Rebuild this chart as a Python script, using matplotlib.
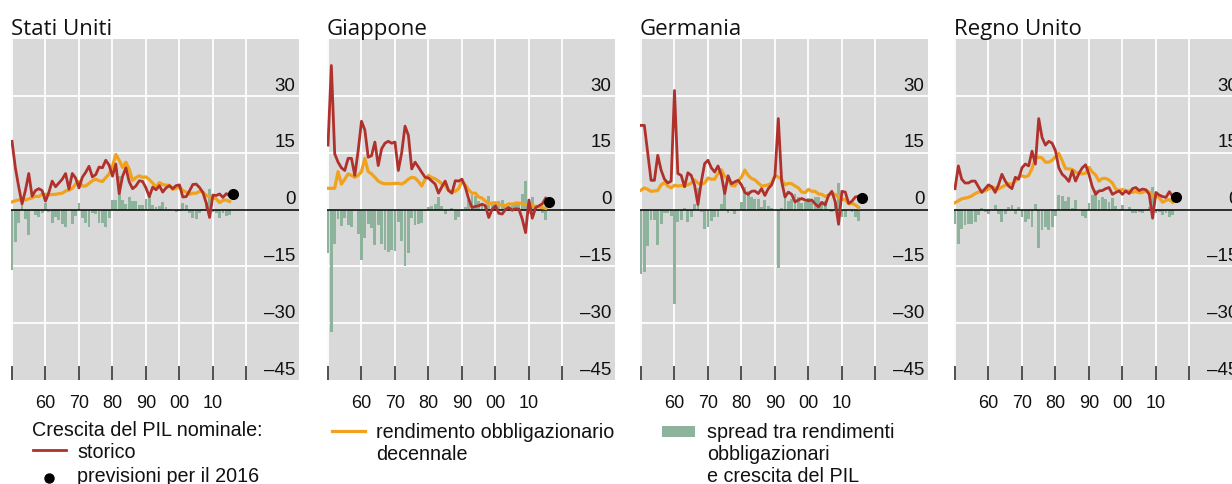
import matplotlib
matplotlib.use("Agg")
import matplotlib.pyplot as plt
import matplotlib.transforms as mtransforms
from matplotlib.lines import Line2D
from matplotlib.patches import Rectangle
import numpy as np

plt.rcParams['font.family'] = ['Liberation Sans', 'DejaVu Sans']

# ---------------- data ----------------
years = list(range(1950, 2016))
forecast_year = 2016

titles = ["Stati Uniti", "Giappone", "Germania", "Regno Unito"]

us_growth = [18.0, 11.0, 6.0, 1.5, 5.0, 9.5, 3.5, 5.0, 5.5, 5.0,
             2.2, 4.5, 7.5, 6.0, 7.0, 8.0, 9.5, 5.4, 9.5, 8.3,
             5.7, 8.5, 9.8, 11.4, 8.6, 9.2, 11.2, 11.0, 13.0, 11.7,
             8.8, 12.0, 4.2, 8.7, 11.0, 7.3, 5.5, 6.2, 7.6, 7.4,
             5.7, 3.4, 5.9, 5.2, 6.3, 4.6, 5.7, 6.3, 5.5, 6.3,
             6.5, 3.3, 3.4, 4.9, 6.6, 6.7, 5.8, 4.5, 1.7, -2.1,
             3.8, 3.7, 4.1, 3.2, 4.2, 3.6]
us_yield = [2.0, 2.3, 2.5, 2.8, 2.5, 2.8, 3.1, 3.5, 3.4, 4.1,
            4.0, 3.9, 3.95, 4.0, 4.2, 4.3, 4.9, 5.1, 5.6, 6.7,
            7.4, 6.2, 6.2, 6.9, 7.6, 8.0, 7.6, 7.4, 8.4, 9.4,
            11.4, 14.5, 13.0, 11.1, 12.5, 10.6, 7.7, 8.4, 8.9, 8.5,
            8.6, 7.9, 7.0, 5.9, 7.1, 6.6, 6.4, 6.4, 5.3, 5.6,
            6.0, 5.0, 4.6, 4.0, 4.3, 4.3, 4.8, 4.6, 3.7, 3.3,
            3.2, 2.8, 1.8, 2.4, 2.5, 2.1]
us_forecast = 4.0

jp_growth = [17.0, 38.0, 14.7, 12.5, 11.0, 10.3, 13.5, 13.5, 9.0, 15.5,
             23.3, 21.0, 13.8, 14.2, 17.8, 11.6, 16.0, 17.5, 18.0, 17.5,
             17.8, 10.3, 15.0, 22.0, 19.6, 10.7, 12.5, 11.2, 9.8, 8.5,
             8.3, 7.5, 6.7, 4.3, 6.0, 7.5, 5.0, 4.3, 7.6, 7.5,
             8.0, 5.9, 2.8, 0.5, 0.8, 1.0, 1.4, 1.0, -2.1, 0.0,
             1.0, -1.0, -1.2, 0.0, 0.5, -0.2, 0.2, 0.1, -2.5, -6.1,
             2.5, -2.3, 0.5, 1.0, 1.5, 3.0]
jp_yield = [5.6, 5.6, 5.6, 10.0, 6.7, 8.0, 9.4, 9.0, 8.5, 9.0,
            10.0, 13.5, 10.0, 9.4, 8.5, 7.5, 7.0, 6.8, 6.8, 6.8,
            6.9, 6.9, 6.7, 7.2, 8.0, 8.5, 8.3, 7.4, 6.2, 8.0,
            9.0, 8.4, 8.1, 7.5, 6.8, 6.3, 5.0, 4.7, 4.8, 5.5,
            7.5, 6.5, 5.2, 4.3, 4.3, 3.3, 3.0, 2.2, 1.5, 1.7,
            1.8, 1.3, 1.3, 1.0, 1.5, 1.4, 1.7, 1.7, 1.5, 1.3,
            1.2, 1.1, 0.8, 0.7, 0.5, 0.3]
jp_forecast = 2.1

de_growth = [22.2, 22.2, 15.0, 7.7, 7.7, 14.3, 10.4, 8.0, 7.0, 7.5,
             31.4, 9.5, 9.0, 6.0, 9.7, 9.0, 6.4, 1.3, 7.3, 12.1,
             13.0, 11.0, 9.9, 11.5, 9.0, 4.2, 8.9, 6.8, 7.3, 7.7,
             6.5, 4.5, 4.0, 4.8, 4.9, 4.2, 5.5, 3.7, 5.5, 6.5,
             8.9, 24.0, 7.4, 3.3, 4.6, 4.0, 2.0, 2.5, 2.9, 2.5,
             2.3, 2.5, 1.5, 0.7, 1.9, 1.2, 3.7, 4.8, 2.0, -3.9,
             4.8, 4.6, 1.6, 2.2, 3.3, 3.5]
de_yield = [5.1, 5.7, 5.3, 4.8, 4.9, 5.0, 6.5, 7.1, 6.2, 5.7,
            6.4, 6.2, 6.3, 6.3, 6.5, 7.0, 7.8, 7.0, 6.7, 7.0,
            8.3, 8.0, 8.0, 9.5, 10.5, 8.7, 8.0, 6.4, 6.2, 7.5,
            8.5, 10.4, 9.0, 8.2, 7.8, 7.0, 6.2, 6.3, 6.5, 7.0,
            8.9, 8.6, 7.9, 6.5, 6.9, 6.8, 6.2, 5.7, 4.6, 4.5,
            5.3, 4.8, 4.8, 4.1, 4.0, 3.4, 3.8, 4.2, 4.0, 3.2,
            2.7, 2.6, 1.5, 1.6, 1.2, 0.5]
de_forecast = 3.1

uk_growth = [5.5, 11.5, 8.0, 7.0, 7.0, 7.5, 7.5, 6.0, 4.5, 5.5,
             6.5, 6.0, 4.5, 6.5, 9.3, 7.5, 6.2, 5.5, 8.5, 8.0,
             11.0, 12.0, 11.5, 15.4, 12.0, 24.0, 19.0, 17.0, 18.0, 17.5,
             15.5, 11.0, 9.3, 8.5, 7.4, 10.2, 7.5, 9.5, 11.0, 11.8,
             9.3, 6.0, 4.0, 4.9, 5.0, 5.5, 5.8, 4.0, 4.5, 4.9,
             4.0, 4.9, 4.2, 5.5, 5.8, 5.0, 5.4, 5.2, 4.0, -2.3,
             4.5, 3.8, 3.4, 3.2, 4.7, 3.4]
uk_yield = [1.8, 2.3, 2.8, 3.0, 3.2, 3.6, 4.2, 4.6, 4.8, 4.9,
            5.4, 5.9, 5.7, 5.4, 5.9, 6.4, 6.8, 6.7, 7.4, 8.6,
            8.9, 8.6, 9.0, 10.8, 13.5, 13.8, 13.6, 12.5, 12.5, 13.0,
            13.9, 14.8, 12.9, 10.8, 10.7, 10.6, 9.9, 9.5, 9.4, 9.6,
            11.1, 9.9, 9.1, 7.5, 8.2, 8.2, 7.8, 7.0, 5.4, 5.0,
            5.3, 4.9, 4.9, 4.5, 4.8, 4.4, 4.5, 5.0, 4.6, 3.6,
            3.6, 3.1, 1.9, 2.4, 2.6, 1.9]
uk_forecast = 3.4

growth_series = [us_growth, jp_growth, de_growth, uk_growth]
yield_series = [us_yield, jp_yield, de_yield, uk_yield]
forecasts = [us_forecast, jp_forecast, de_forecast, uk_forecast]

x_ticks = [1950, 1960, 1970, 1980, 1990, 2000, 2010, 2020]
x_tick_labels = ["", "60", "70", "80", "90", "00", "10", ""]
y_grid = [-30, -15, 15, 30]
y_labels_vals = [30, 15, 0, -15, -30, -45]

legend_col1_header = "Crescita del PIL nominale:"
legend_red = "storico"
legend_dot = "previsioni per il 2016"
legend_orange = ["rendimento obbligazionario", "decennale"]
legend_green = ["spread tra rendimenti", "obbligazionari", "e crescita del PIL"]

# ---------------- style ----------------
RED = "#b0302c"
ORANGE = "#f0a21c"
GREEN = "#8db39c"
BG = "#d9d9d9"

W, H = 1232, 485
fig = plt.figure(figsize=(W / 100, H / 100), dpi=100)

lefts = [11, 327, 640, 954]
ax_w, ax_top, ax_bot = 288, 40, 381

for i in range(4):
    ax = fig.add_axes([lefts[i] / W, 1 - ax_bot / H, ax_w / W, (ax_bot - ax_top) / H])
    ax.set_facecolor(BG)
    for s in ax.spines.values():
        s.set_visible(False)
    ax.set_xlim(1949.7, 2035.7)
    ax.set_ylim(-45, 45)
    ax.set_axisbelow(True)

    ax.set_xticks(x_ticks)
    ax.set_xticklabels(x_tick_labels)
    ax.set_yticks(y_grid)
    ax.grid(True, color="white", lw=1.3)
    ax.tick_params(axis="y", length=0, labelleft=False)
    ax.tick_params(axis="x", direction="in", length=10, width=1.2,
                   color="#333333", pad=10, labelsize=13, labelcolor="#111111")

    g = np.array(growth_series[i])
    yv = np.array(yield_series[i])
    spread = yv - g
    ax.bar(years, spread, width=0.85, color=GREEN, zorder=2, linewidth=0)
    ax.axhline(0, color="black", lw=1.1, zorder=3)
    ax.plot(years, yv, color=ORANGE, lw=2.3, zorder=4)
    ax.plot(years, g, color=RED, lw=2.0, zorder=5)
    ax.plot([forecast_year], [forecasts[i]], "o", color="black", ms=7, zorder=6)

    trans = mtransforms.blended_transform_factory(ax.transAxes, ax.transData)
    trans = trans + mtransforms.ScaledTranslation(0, 4.5 / 72, fig.dpi_scale_trans)
    for v in y_labels_vals:
        lab = str(v) if v >= 0 else "\u2013" + str(-v)
        ax.text(0.987, v, lab, transform=trans, ha="right", va="baseline",
                fontsize=13.5, color="#111111")

    ax.set_title(titles[i], loc="left", pad=3.5, fontsize=16,
                 fontfamily=["Open Sans", "DejaVu Sans"], color="#111111")

# ---------------- legend ----------------
def fy(py):
    return 1 - py / H

LEG_FS = 14.2
fig.text(32 / W, fy(436), legend_col1_header, fontsize=LEG_FS, va="baseline", color="#111111")
fig.add_artist(Line2D([33 / W, 66 / W], [fy(451), fy(451)], color=RED, lw=2.0))
fig.text(77 / W, fy(458), legend_red, fontsize=LEG_FS, va="baseline", color="#111111")
fig.add_artist(Line2D([49 / W], [fy(479)], marker="o", ms=6.5, color="black", lw=0))
fig.text(77 / W, fy(482), legend_dot, fontsize=LEG_FS, va="baseline", color="#111111")

fig.add_artist(Line2D([332 / W, 365 / W], [fy(432), fy(432)], color=ORANGE, lw=2.3))
for k, line in enumerate(legend_orange):
    fig.text(376 / W, fy(438 + 22 * k), line, fontsize=LEG_FS, va="baseline", color="#111111")

fig.add_artist(Rectangle((662 / W, fy(438)), 33 / W, 11 / H, transform=fig.transFigure,
                         color=GREEN, lw=0))
for k, line in enumerate(legend_green):
    fig.text(707 / W, fy(438 + 22 * k), line, fontsize=LEG_FS, va="baseline", color="#111111")

fig.savefig("out.png", dpi=100)
